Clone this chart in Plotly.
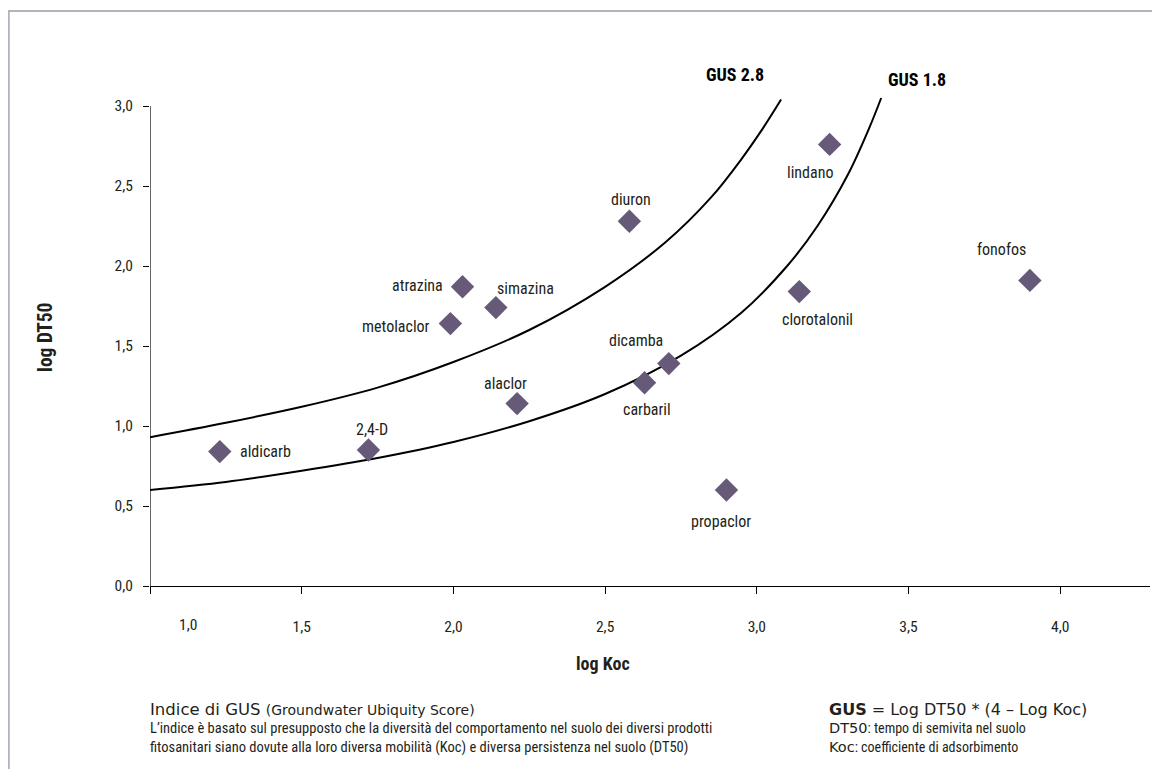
import plotly.graph_objects as go

# ---------------- data ----------------
pesticides = ["aldicarb", "2,4-D", "alaclor", "metolaclor", "atrazina", "simazina",
              "diuron", "dicamba", "carbaril", "lindano", "clorotalonil", "fonofos", "propaclor"]
log_koc = [1.23, 1.72, 2.21, 1.99, 2.03, 2.14, 2.58, 2.71, 2.63, 3.24, 3.14, 3.90, 2.90]
log_dt50 = [0.84, 0.85, 1.14, 1.64, 1.87, 1.74, 2.28, 1.39, 1.27, 2.76, 1.84, 1.91, 0.60]

gus28_koc = [1.0, 1.25, 1.5, 1.75, 2.0, 2.25, 2.5, 2.7, 2.85, 2.95, 3.02, 3.08]
gus28_dt50 = [0.93, 1.02, 1.12, 1.24, 1.40, 1.60, 1.87, 2.15, 2.43, 2.67, 2.86, 3.04]
gus18_koc = [1.0, 1.25, 1.5, 1.75, 2.0, 2.25, 2.5, 2.75, 2.95, 3.1, 3.2, 3.3, 3.37, 3.41]
gus18_dt50 = [0.60, 0.65, 0.72, 0.80, 0.90, 1.03, 1.20, 1.44, 1.71, 2.00, 2.25, 2.57, 2.86, 3.05]

x_ticks = [1.0, 1.5, 2.0, 2.5, 3.0, 3.5, 4.0]
x_ticklabels = ["", "1,5", "2,0", "2,5", "3,0", "3,5", "4,0"]
y_ticks = [0.0, 0.5, 1.0, 1.5, 2.0, 2.5, 3.0]
y_ticklabels = ["0,0", "0,5", "1,0", "1,5", "2,0", "2,5", "3,0"]

# label placement (anchor, x offset px, y offset px) for each pesticide
label_place = [("left", 18, 0), ("center", 4, 21), ("center", -12, 20), ("right", -18, -3),
               ("right", -18, 1), ("center", 30, 19), ("center", 2, 22), ("center", -33, 23),
               ("center", 2, -27), ("center", -20, -28), ("center", 18, -28), ("center", -28, 31),
               ("center", -5, -31)]

COND = "Roboto Condensed, DejaVu Sans Condensed, sans-serif"
WIDE = "DejaVu Sans, Noto Sans, sans-serif"
TXT = "#231f20"
MARK = "#665a78"

OFF = 8  # page body margin
W, H = 1160, 769
L, T = 150 - OFF, 96 - OFF
B = H - (586 - OFF)
R = W - (1150 - OFF)
PW, PH = W - L - R, H - T - B


def px(xs):
    return (xs - OFF - L) / PW


def py(ys):
    return (H - B - (ys - OFF)) / PH


fig = go.Figure()
fig.add_trace(go.Scatter(x=gus28_koc, y=gus28_dt50, mode="lines", line=dict(color="black", width=2, shape="spline"),
                         hoverinfo="skip", showlegend=False))
fig.add_trace(go.Scatter(x=gus18_koc, y=gus18_dt50, mode="lines", line=dict(color="black", width=2, shape="spline"),
                         hoverinfo="skip", showlegend=False))
fig.add_trace(go.Scatter(x=log_koc, y=log_dt50, mode="markers", text=pesticides,
                         marker=dict(symbol="diamond", size=18, color=MARK), showlegend=False, cliponaxis=False))

ann = []
for name, xv, yv, (anc, dx, dy) in zip(pesticides, log_koc, log_dt50, label_place):
    ann.append(dict(x=xv, y=yv, xref="x", yref="y", text=name, showarrow=False, xanchor=anc, yanchor="middle",
                    xshift=dx, yshift=dy, font=dict(family=COND, size=16, color=TXT)))

# curve labels
ann.append(dict(x=px(735), y=py(75), xref="paper", yref="paper", text="<b>GUS 2.8</b>", showarrow=False,
                xanchor="center", yanchor="middle", font=dict(family=COND, size=18, color="black")))
ann.append(dict(x=px(917), y=py(79), xref="paper", yref="paper", text="<b>GUS 1.8</b>", showarrow=False,
                xanchor="center", yanchor="middle", font=dict(family=COND, size=18, color="black")))
# shifted first x tick label
ann.append(dict(x=px(188), y=py(625), xref="paper", yref="paper", text="1,0", showarrow=False,
                xanchor="center", yanchor="middle", font=dict(family=COND, size=15.5, color=TXT)))
# axis titles
ann.append(dict(x=px(603), y=py(663), xref="paper", yref="paper", text="<b>log Koc</b>", showarrow=False,
                xanchor="center", yanchor="middle", font=dict(family=COND, size=18, color=TXT)))
ann.append(dict(x=px(45), y=py(338), xref="paper", yref="paper", text="<b>log DT50</b>", showarrow=False,
                textangle=-90, xanchor="center", yanchor="middle", font=dict(family=COND, size=19.5, color=TXT)))
# bottom notes
ann.append(dict(x=px(148), y=py(709), xref="paper", yref="paper", showarrow=False, xanchor="left", yanchor="middle",
                text="Indice di GUS <span style='font-size:14px'>(Groundwater Ubiquity Score)</span>",
                font=dict(family=WIDE, size=16.5, color=TXT)))
ann.append(dict(x=px(148), y=py(728), xref="paper", yref="paper", showarrow=False, xanchor="left", yanchor="middle",
                text="L’indice è basato sul presupposto che la diversità del comportamento nel suolo dei diversi prodotti",
                font=dict(family=COND, size=14.5, color=TXT)))
ann.append(dict(x=px(148), y=py(747), xref="paper", yref="paper", showarrow=False, xanchor="left", yanchor="middle",
                text="fitosanitari siano dovute alla loro diversa mobilità (Koc) e diversa persistenza nel suolo (DT50)",
                font=dict(family=COND, size=14.5, color=TXT)))
ann.append(dict(x=px(827), y=py(709), xref="paper", yref="paper", showarrow=False, xanchor="left", yanchor="middle",
                text="<b>GUS</b> = Log DT50 * (4 – Log Koc)",
                font=dict(family=WIDE, size=16, color=TXT)))
ann.append(dict(x=px(827), y=py(728), xref="paper", yref="paper", showarrow=False, xanchor="left", yanchor="middle",
                text=f"DT50<span style='font-family:{COND};font-size:14px'>: tempo di semivita nel suolo</span>",
                font=dict(family=WIDE, size=14.5, color=TXT)))
ann.append(dict(x=px(827), y=py(747), xref="paper", yref="paper", showarrow=False, xanchor="left", yanchor="middle",
                text=f"Koc<span style='font-family:{COND};font-size:14px'>: coefficiente di adsorbimento</span>",
                font=dict(family=WIDE, size=14.5, color=TXT)))

shapes = [
    # y axis line (stops at 3.0)
    dict(type="line", xref="x", yref="y", x0=1.0, x1=1.0, y0=0, y1=3.0, line=dict(color="black", width=1.2)),
    # frame (left and top)
    dict(type="line", xref="paper", yref="paper", x0=px(OFF + 0.8), x1=px(OFF + 0.8), y0=py(11), y1=py(H + 20),
         line=dict(color="#b4b2bc", width=2)),
    dict(type="line", xref="paper", yref="paper", x0=px(OFF), x1=px(W + 20), y0=py(11), y1=py(11),
         line=dict(color="#b4b2bc", width=2)),
]

fig.update_layout(
    width=W, height=H, margin=dict(l=L, r=R, t=T, b=B),
    paper_bgcolor="white", plot_bgcolor="white",
    separators=",.",
    annotations=ann, shapes=shapes,
    xaxis=dict(range=[1.0, 1.0 + PW / 303.4], tickvals=x_ticks, ticktext=x_ticklabels,
               showgrid=False, zeroline=False, showline=True, linecolor="black", linewidth=1.2,
               ticks="outside", ticklen=7, tickcolor="black", tickwidth=1,
               ticklabelstandoff=19, tickfont=dict(family=COND, size=15.5, color=TXT)),
    yaxis=dict(range=[0, PH / 160.0], tickvals=y_ticks, ticktext=y_ticklabels,
               showgrid=False, zeroline=False, showline=False,
               ticks="outside", ticklen=6, tickcolor="black", tickwidth=1,
               ticklabelstandoff=7, tickfont=dict(family=COND, size=15.5, color=TXT)),
    hovermode=False,
)

fig.write_html("out.html")
